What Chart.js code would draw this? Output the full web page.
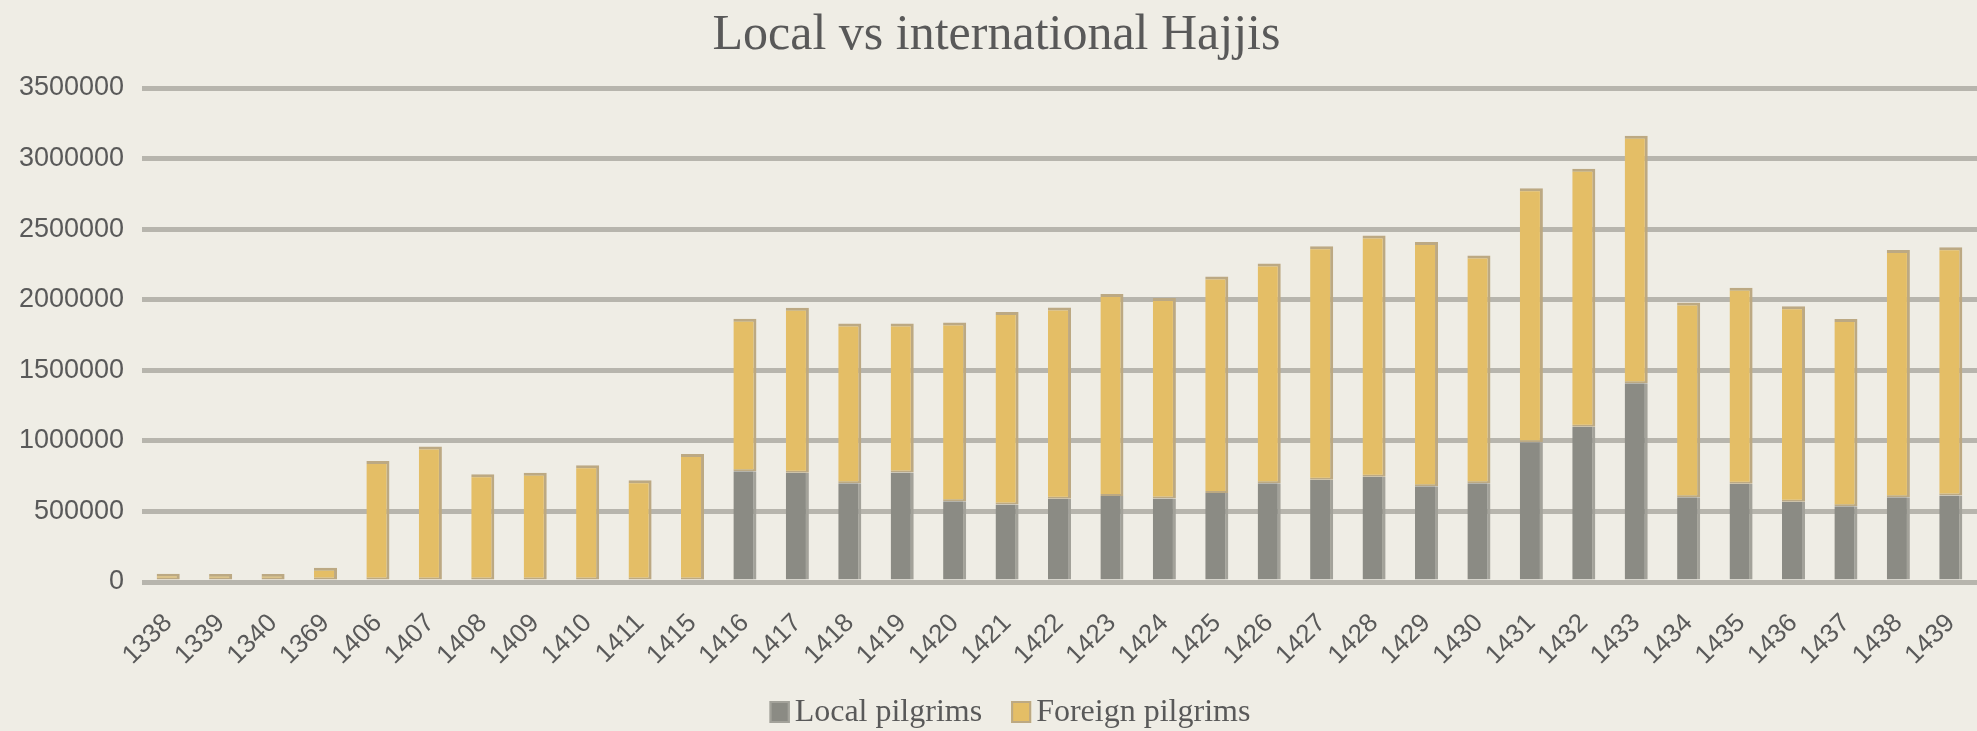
<!DOCTYPE html>
<html>
<head>
<meta charset="utf-8">
<title>Local vs international Hajjis</title>
<script src="https://cdn.jsdelivr.net/npm/chart.js@4"></script>
<style>
    html, body { margin: 0; padding: 0; background: #efede5; }
    #wrap { width: 1977px; height: 731px; position: relative; }
</style>
</head>
<body>
<div id="wrap"><canvas id="hajjChart"></canvas></div>
<script>
'use strict';

// --- DATA ---
const years = ['1338', '1339', '1340', '1369', '1406', '1407', '1408', '1409', '1410', '1411',
    '1415', '1416', '1417', '1418', '1419', '1420', '1421', '1422', '1423', '1424',
    '1425', '1426', '1427', '1428', '1429', '1430', '1431', '1432', '1433', '1434',
    '1435', '1436', '1437', '1438', '1439'];

// no local figures before 1416
const localPilgrims = [null, null, null, null, null, null, null, null, null, null,
    null, 784769, 774260, 699770, 775268, 571599, 549271, 590576, 610117, 592368,
    629710, 700000, 724229, 746511, 679008, 699603, 989798, 1099522, 1408641, 600718,
    696185, 567876, 537537, 600108, 612953];

const foreignPilgrims = [58584, 57255, 56319, 100578, 856718, 960386, 762755, 774600, 827236, 720102,
    906000, 1080465, 1168591, 1132344, 1056730, 1267355, 1363992, 1354184, 1431012, 1419706,
    1534769, 1557447, 1654407, 1707814, 1729841, 1613965, 1799601, 1828195, 1752932, 1379531,
    1389053, 1384941, 1325372, 1752014, 1758722];

const yTicks = [0, 500000, 1000000, 1500000, 2000000, 2500000, 3000000, 3500000];

// --- STYLE ---
const textColor = '#595959';
const gridColor = '#b7b5ad';
const sansFont = "'Liberation Sans', Arial, sans-serif";
const serifFont = "'Liberation Serif', 'Times New Roman', serif";

// Excel-style legend: small swatch sitting right against its label
const tightLegend = {
    id: 'tightLegend',
    afterDraw(chart) {
        const c = chart.ctx;
        const box = { w: 20, h: 22, gap: 5, itemGap: 29 };
        const centerX = 1010;
        const centerY = 712;
        c.save();
        c.font = `32px ${serifFont}`;
        const items = chart.data.datasets.map(ds => ({
            text: ds.label,
            fill: ds.backgroundColor,
            stroke: ds.borderColor,
            width: box.w + box.gap + c.measureText(ds.label).width
        }));
        const total = items.reduce((s, it) => s + it.width, 0) + box.itemGap * (items.length - 1);
        let x = centerX - total / 2;
        c.textBaseline = 'middle';
        c.textAlign = 'left';
        items.forEach(it => {
            c.fillStyle = it.fill;
            c.fillRect(x, centerY - box.h / 2, box.w, box.h);
            c.strokeStyle = it.stroke;
            c.lineWidth = 2;
            c.strokeRect(x + 1, centerY - box.h / 2 + 1, box.w - 2, box.h - 2);
            c.fillStyle = textColor;
            c.fillText(it.text, x + box.w + box.gap, centerY + 1);
            x += it.width + box.itemGap;
        });
        c.restore();
    }
};

const ctx = document.getElementById('hajjChart').getContext('2d');

new Chart(ctx, {
    type: 'bar',
    data: {
        labels: years,
        datasets: [
            {
                label: 'Local pilgrims',
                data: localPilgrims,
                backgroundColor: '#8b8b84',
                borderColor: '#a3a29a',
                borderWidth: { top: 0, right: 3, bottom: 0, left: 0 },
                borderSkipped: false
            },
            {
                label: 'Foreign pilgrims',
                data: foreignPilgrims,
                backgroundColor: '#e4be66',
                borderColor: '#bca983',
                borderWidth: { top: 3, right: 3, bottom: 2, left: 0 },
                borderSkipped: false
            }
        ]
    },
    plugins: [tightLegend],
    options: {
        responsive: true,
        maintainAspectRatio: false,
        animation: false,
        layout: { padding: { left: 16, right: 0, top: 0, bottom: 56 } },
        datasets: { bar: { categoryPercentage: 1, barPercentage: 0.44 } },
        plugins: {
            title: {
                display: true,
                text: 'Local vs international Hajjis',
                color: textColor,
                font: { family: serifFont, size: 50, weight: 'normal' },
                padding: { top: 6, bottom: 22 }
            },
            legend: { display: false },
            tooltip: { enabled: false }
        },
        scales: {
            x: {
                stacked: true,
                grid: { display: false },
                border: { display: false },
                afterFit: (scale) => {
                    // rotated labels end at their tick, no side room needed
                    scale.height = 93;
                    scale.paddingLeft = 0;
                    scale.paddingRight = 0;
                },
                ticks: {
                    color: textColor,
                    font: { family: sansFont, size: 26 },
                    maxRotation: 45,
                    minRotation: 45,
                    autoSkip: false,
                    padding: 18
                }
            },
            y: {
                stacked: true,
                min: 0,
                max: yTicks[yTicks.length - 1],
                afterBuildTicks: (scale) => {
                    scale.ticks = yTicks.map(v => ({ value: v }));
                },
                afterFit: (scale) => { scale.width = 126; },
                grid: {
                    color: gridColor,
                    lineWidth: 5,
                    drawTicks: false
                },
                border: { display: false },
                ticks: {
                    color: textColor,
                    font: { family: sansFont, size: 27 },
                    padding: 18,
                    callback: (v) => String(v)
                }
            }
        }
    }
});
</script>
</body>
</html>
